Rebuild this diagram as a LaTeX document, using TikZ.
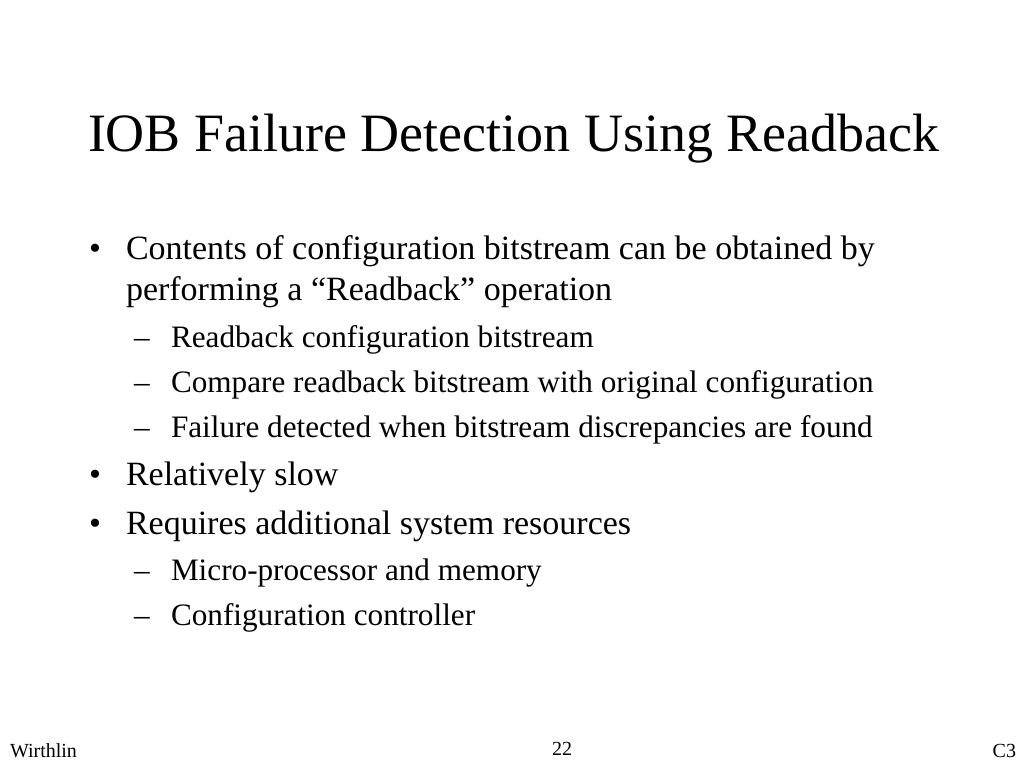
\documentclass[tikz,border=0pt]{standalone}
\usepackage{fontspec}
\setmainfont{Liberation Serif}
\begin{document}
\begin{tikzpicture}[x=1pt,y=-1pt]
\tikzset{
  txt/.style={anchor=base west,inner sep=0pt,outer sep=0pt},
  ttl/.style={txt,font=\fontsize{54}{60}\selectfont},
  lvl1/.style={txt,font=\fontsize{34}{38}\selectfont},
  lvl2/.style={txt,font=\fontsize{31.2}{34}\selectfont},
  foot/.style={inner sep=0pt,outer sep=0pt,font=\fontsize{20}{22}\selectfont}
}
\useasboundingbox[fill=white] (0,0) rectangle (1024,768);
\node[ttl] (title) at (88,151) {IOB Failure Detection Using Readback};
\node[lvl1] (b1) at (89,259) {\textbullet};
\node[lvl1] (t1) at (126,259) {Contents of configuration bitstream can be obtained by};
\node[lvl1] (t1b) at (126,300.5) {performing a “Readback” operation};
\node[lvl2] (d1) at (134,347) {–};
\node[lvl2] (s1) at (171,347) {Readback configuration bitstream};
\node[lvl2] (d2) at (134,392) {–};
\node[lvl2] (s2) at (171,392) {Compare readback bitstream with original configuration};
\node[lvl2] (d3) at (134,437) {–};
\node[lvl2] (s3) at (171,437) {Failure detected when bitstream discrepancies are found};
\node[lvl1] (b2) at (89,485) {\textbullet};
\node[lvl1] (t2) at (126,485) {Relatively slow};
\node[lvl1] (b3) at (89,534.5) {\textbullet};
\node[lvl1] (t3) at (126,534.5) {Requires additional system resources};
\node[lvl2] (d4) at (134,580) {–};
\node[lvl2] (s4) at (171,580) {Micro-processor and memory};
\node[lvl2] (d5) at (134,625) {–};
\node[lvl2] (s5) at (171,625) {Configuration controller};
\node[foot,anchor=base west] (fl) at (10,757) {Wirthlin};
\node[foot,anchor=base] (fc) at (562,755) {22};
\node[foot,anchor=base east] (fr) at (1016,757) {C3};
\end{tikzpicture}
\end{document}
